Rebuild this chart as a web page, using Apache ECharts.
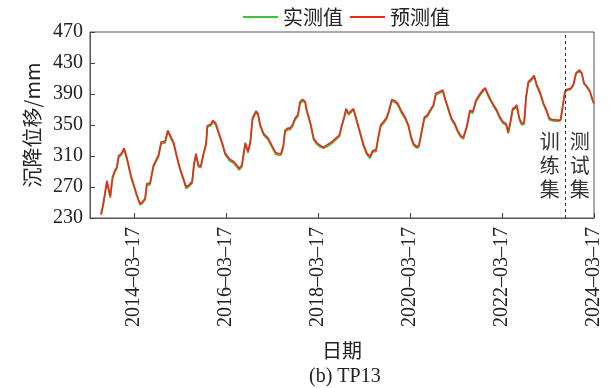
<!DOCTYPE html>
<html>
<head>
<meta charset="utf-8">
<script src="https://cdn.jsdelivr.net/npm/echarts@6/dist/echarts.min.js"></script>
<style>
  html, body { margin: 0; padding: 0; background: #fff; }
  #chart { width: 614px; height: 388px; }
</style>
</head>
<body>
<div id="chart"></div>
<script>
// 监测日期
var dates = [
  '2013-06-28','2013-07-16','2013-08-13','2013-09-09','2013-09-27','2013-10-18','2013-11-01','2013-11-14','2013-12-05','2013-12-28',
  '2014-01-20','2014-02-23','2014-03-11','2014-04-08','2014-05-04','2014-05-22','2014-06-13','2014-06-26','2014-07-22','2014-08-18','2014-09-27','2014-10-18','2014-11-19','2014-12-10','2014-12-28',
  '2015-01-24','2015-02-21','2015-03-17','2015-04-13','2015-05-04','2015-05-30','2015-06-21','2015-07-06','2015-07-22','2015-08-10','2015-08-29','2015-09-19','2015-10-10','2015-10-20','2015-11-17','2015-12-03','2015-12-26',
  '2016-01-17','2016-02-13','2016-03-09','2016-04-13','2016-05-14','2016-06-10','2016-06-28','2016-07-20','2016-08-16','2016-09-07','2016-09-25','2016-10-13','2016-11-09','2016-11-25','2016-12-13',
  '2017-01-09','2017-02-13','2017-03-14','2017-04-16','2017-05-06','2017-05-27','2017-06-15','2017-06-28','2017-07-20','2017-08-08','2017-08-26','2017-09-17','2017-10-08','2017-10-26','2017-11-14','2017-12-05','2017-12-18',
  '2018-01-14','2018-02-10','2018-03-07','2018-04-02','2018-04-28','2018-05-25','2018-07-04','2018-08-13','2018-09-03','2018-09-22','2018-10-10','2018-10-26','2018-11-14','2018-12-03','2018-12-23',
  '2019-01-14','2019-02-10','2019-03-11','2019-04-08','2019-05-04','2019-05-25','2019-06-21','2019-07-09','2019-07-28','2019-08-18','2019-09-14','2019-10-02','2019-10-24','2019-11-19','2019-12-10',
  '2020-01-11','2020-02-07','2020-03-04','2020-03-25','2020-04-13','2020-05-09','2020-05-27','2020-06-18','2020-07-09','2020-08-02','2020-08-23','2020-09-19','2020-10-08','2020-11-04','2020-12-03','2020-12-21',
  '2021-01-12','2021-02-08','2021-03-04','2021-03-30','2021-04-24','2021-05-14','2021-06-10','2021-07-06','2021-07-28','2021-08-23','2021-09-19','2021-10-16','2021-11-04','2021-11-22','2021-12-13',
  '2022-01-09','2022-02-05','2022-03-01','2022-03-27','2022-04-18','2022-05-06','2022-05-25','2022-06-10','2022-06-28','2022-07-12','2022-08-02','2022-08-21','2022-09-09','2022-09-25','2022-10-13','2022-11-09','2022-11-27','2022-12-18',
  '2023-01-14','2023-02-10','2023-03-07','2023-03-27','2023-04-16','2023-05-12','2023-06-08','2023-06-26','2023-07-12','2023-07-30','2023-08-18','2023-09-14','2023-10-05','2023-10-26','2023-11-22','2023-12-11','2023-12-29',
  '2024-01-20','2024-02-15','2024-03-07','2024-03-17'
]

// 实测值 (mm)
var measured = [
  234,247,276,256,281,290,294,308,311,318,
  305,281,273,258,247,249,254,272,273,296,309,326,327,341,335,
  326,307,292,279,268,271,275,298,311,296,295,311,324,347,349,354,350,
  339,326,312,304,301,296,292,296,325,314,326,357,366,363,348,
  337,331,322,312,311,311,322,341,344,344,348,357,361,378,381,379,367,
  352,331,325,322,320,322,326,332,335,348,358,369,363,366,370,
  357,341,324,312,307,315,316,333,348,352,358,367,381,379,376,
  365,358,348,333,324,320,322,341,358,361,367,374,389,391,393,382,
  371,357,351,341,334,332,346,367,365,380,387,393,397,389,382,
  374,367,358,352,350,339,354,369,371,374,357,350,351,385,404,408,413,400,
  390,376,367,357,356,355,355,356,372,392,395,396,401,416,420,416,403,
  399,392,381,377
]

// 预测值 (mm)
var predicted = [
  235,249,278,258,283,292,296,310,313,320,
  307,283,275,260,248,251,255,274,275,298,311,328,329,343,337,
  328,309,294,281,270,273,277,300,313,298,297,313,326,349,351,356,352,
  341,328,314,306,303,298,294,298,327,316,328,359,368,365,350,
  339,333,324,314,313,313,324,343,346,346,350,359,363,380,383,380,369,
  354,333,327,324,321,324,328,334,337,350,360,371,365,368,371,
  359,343,326,314,309,317,318,335,350,354,360,369,383,381,378,
  367,360,350,335,326,322,324,343,360,363,369,376,391,393,395,384,
  373,359,353,343,336,334,348,369,367,382,389,395,398,391,384,
  376,369,360,354,352,341,356,371,373,376,359,352,353,387,406,410,414,402,
  392,378,369,359,357,357,356,357,374,393,396,397,402,417,421,417,404,
  400,393,382,378
]

// 坐标轴刻度
var xTickLabels = ['2014-03-17', '2016-03-17', '2018-03-17', '2020-03-17', '2022-03-17', '2024-03-17']
var yTicks = [230, 270, 310, 350, 390, 430, 470]
var xStart = '2013-04-01'
var splitDate = '2023-08-05' // 训练集 / 测试集 分界

var serif = '"Liberation Serif", "Noto Sans CJK SC", serif'
var cjk = '"Noto Sans CJK SC", "Liberation Serif", sans-serif'

function toTime(d) {
  return new Date(d + 'T00:00:00').getTime()
}

var xTickValues = xTickLabels.map(toTime)

var chart = echarts.init(document.getElementById('chart'))

chart.setOption({
  animation: false,
  title: {
    text: '(b) TP13',
    left: 304,
    top: 362,
    textStyle: { fontFamily: serif, fontSize: 20, fontWeight: 'normal', color: '#222' }
  },
  legend: {
    data: ['实测值', '预测值'],
    icon: 'rect',
    left: 238,
    top: 2,
    itemWidth: 35,
    itemHeight: 2,
    itemGap: 7,
    textStyle: { fontFamily: cjk, fontSize: 20, color: '#222' }
  },
  grid: {
    left: 90,
    right: 20,
    top: 32,
    bottom: 170,
    show: true,
    borderColor: '#555',
    borderWidth: 1
  },
  xAxis: {
    type: 'value',
    min: toTime(xStart),
    max: xTickValues[xTickValues.length - 1],
    name: '日期',
    nameLocation: 'middle',
    nameGap: 122,
    nameTextStyle: { fontFamily: cjk, fontSize: 20, color: '#222' },
    axisLine: { lineStyle: { color: '#555' } },
    axisTick: {
      inside: true,
      length: 5,
      lineStyle: { color: '#444' },
      customValues: xTickValues
    },
    axisLabel: {
      rotate: 90,
      margin: 9,
      fontFamily: serif,
      fontSize: 20,
      color: '#222',
      customValues: xTickValues,
      formatter: function (val) {
        var i = xTickValues.indexOf(val)
        return i >= 0 ? xTickLabels[i].replace(/-/g, '–') : ''
      }
    },
    splitLine: { show: false }
  },
  yAxis: {
    type: 'value',
    min: 230,
    max: 470,
    name: '沉降位移/mm',
    nameLocation: 'middle',
    nameGap: 47,
    nameTextStyle: { fontFamily: cjk, fontSize: 20, color: '#222' },
    axisLine: { show: true, lineStyle: { color: '#555' } },
    axisTick: {
      show: true,
      inside: true,
      length: 5,
      lineStyle: { color: '#444' },
      customValues: yTicks
    },
    axisLabel: {
      margin: 7,
      fontFamily: serif,
      fontSize: 20,
      color: '#222',
      customValues: yTicks
    },
    splitLine: { show: false }
  },
  series: [
    {
      name: '实测值',
      type: 'line',
      symbol: 'none',
      data: dates.map(function (d, i) { return [toTime(d), measured[i]] }),
      itemStyle: { color: '#3cbf3c' },
      lineStyle: { color: '#3cbf3c', width: 1.7 }
    },
    {
      name: '预测值',
      type: 'line',
      symbol: 'none',
      data: dates.map(function (d, i) { return [toTime(d), predicted[i]] }),
      itemStyle: { color: '#ec2a1e' },
      lineStyle: { color: '#ec2a1e', width: 1.7 },
      markLine: {
        silent: true,
        symbol: 'none',
        label: { show: false },
        lineStyle: { color: '#333', type: [3, 3], width: 1 },
        data: [{ xAxis: toTime(splitDate) }]
      }
    }
  ]
})

// 训练集 / 测试集 标注
var sx = chart.convertToPixel({ xAxisIndex: 0 }, toTime(splitDate))
chart.setOption({
  graphic: [
    {
      type: 'text', x: sx - 16, y: 129,
      style: { text: '训\n练\n集', fontFamily: cjk, fontSize: 20, lineHeight: 24, fill: '#333', align: 'center' }
    },
    {
      type: 'text', x: sx + 14, y: 129,
      style: { text: '测\n试\n集', fontFamily: cjk, fontSize: 20, lineHeight: 24, fill: '#333', align: 'center' }
    }
  ]
})
</script>
</body>
</html>
